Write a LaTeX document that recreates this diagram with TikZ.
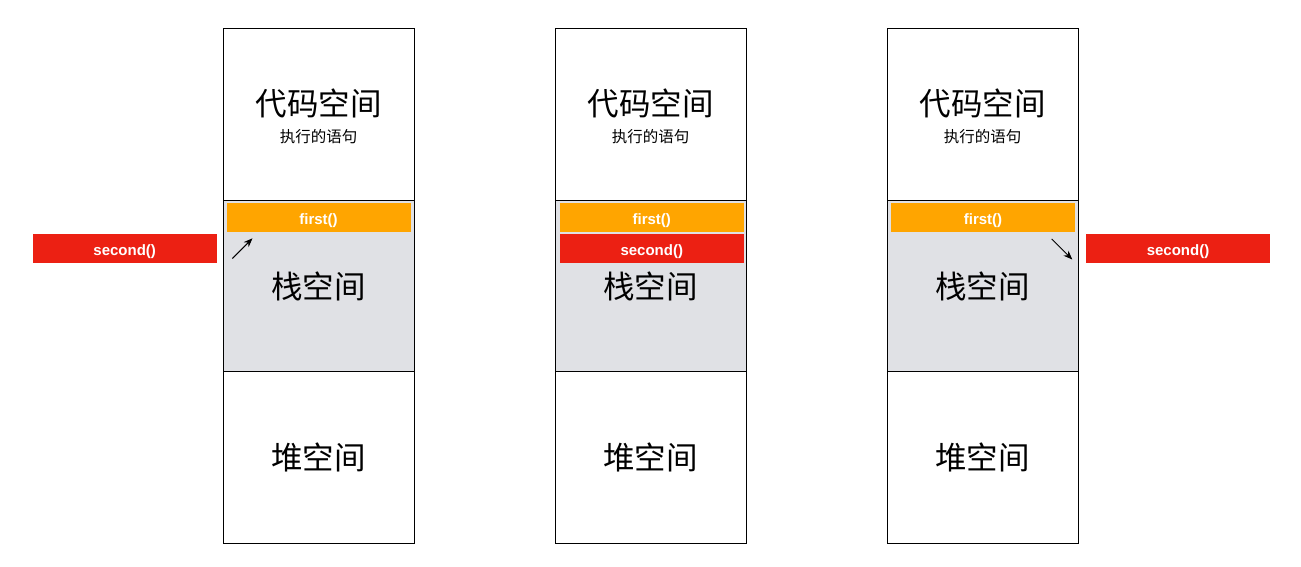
\documentclass[tikz,border=0pt]{standalone}
\usepackage{fontspec}
\setmainfont{Liberation Sans}
\newfontfamily\cjk{Noto Sans CJK SC}
\usetikzlibrary{arrows.meta}
\definecolor{stackgray}{HTML}{E0E1E5}
\definecolor{frameorange}{HTML}{FFA500}
\definecolor{framered}{HTML}{EC2013}
\tikzset{
  sect/.style={draw=black, line width=1.2pt, minimum width=191pt, minimum height=171.5pt, inner sep=0pt, anchor=north west},
  bigtxt/.style={font=\cjk\fontsize{31.5}{33}\selectfont, inner sep=0pt},
  smalltxt/.style={font=\cjk\fontsize{15.5}{17}\selectfont, inner sep=0pt},
  fn/.style={minimum width=184pt, minimum height=29pt, inner sep=0pt},
  fntext/.style={inner sep=0pt, text=white, font=\bfseries\fontsize{15}{17}\selectfont},
  firstfn/.style={fn, fill=frameorange},
  secondfn/.style={fn, fill=framered},
  arr/.style={-{Stealth[length=9pt,width=7pt]}, line width=1pt}
}
\begin{document}
\begin{tikzpicture}[x=1pt,y=-1pt]
\useasboundingbox (0,0) rectangle (1301,567);
% column 1
\node[sect] (codeA) at (223,28) {};
\node[sect, fill=stackgray] (stackA) at (223,199.5) {};
\node[sect] (heapA) at (223,371) {};
\node[bigtxt] (codeAt) at (318.5,103) {代码空间};
\node[smalltxt] (codeAs) at (318.5,137) {执行的语句};
\node[bigtxt] (stackAt) at (318.5,286) {栈空间};
\node[bigtxt] (heapAt) at (318.5,457) {堆空间};
\node[firstfn] (firstA) at (318.5,217.5) {};
\node[fntext] (firstAt) at (318.5,221) {first()};
\node[secondfn] (secondA) at (124.7,248.5) {};
\node[fntext] (secondAt) at (124.7,252) {second()};
\coordinate (arrAs) at (232.3,258.5);
\coordinate (arrAe) at (252.5,238.3);
\draw[arr] (arrAs) -- (arrAe);
% column 2
\node[sect] (codeB) at (555,28) {};
\node[sect, fill=stackgray] (stackB) at (555,199.5) {};
\node[sect] (heapB) at (555,371) {};
\node[bigtxt] (codeBt) at (650.5,103) {代码空间};
\node[smalltxt] (codeBs) at (650.5,137) {执行的语句};
\node[bigtxt] (stackBt) at (650.5,286) {栈空间};
\node[bigtxt] (heapBt) at (650.5,457) {堆空间};
\node[firstfn] (firstB) at (651.8,217.5) {};
\node[fntext] (firstBt) at (651.8,221) {first()};
\node[secondfn] (secondB) at (651.8,248.5) {};
\node[fntext] (secondBt) at (651.8,252) {second()};
% column 3
\node[sect] (codeC) at (887,28) {};
\node[sect, fill=stackgray] (stackC) at (887,199.5) {};
\node[sect] (heapC) at (887,371) {};
\node[bigtxt] (codeCt) at (982.5,103) {代码空间};
\node[smalltxt] (codeCs) at (982.5,137) {执行的语句};
\node[bigtxt] (stackCt) at (982.5,286) {栈空间};
\node[bigtxt] (heapCt) at (982.5,457) {堆空间};
\node[firstfn] (firstC) at (983,217.5) {};
\node[fntext] (firstCt) at (983,221) {first()};
\node[secondfn] (secondC) at (1178,248.5) {};
\node[fntext] (secondCt) at (1178,252) {second()};
\coordinate (arrCs) at (1051.7,239);
\coordinate (arrCe) at (1072.3,259.5);
\draw[arr] (arrCs) -- (arrCe);
\end{tikzpicture}
\end{document}
